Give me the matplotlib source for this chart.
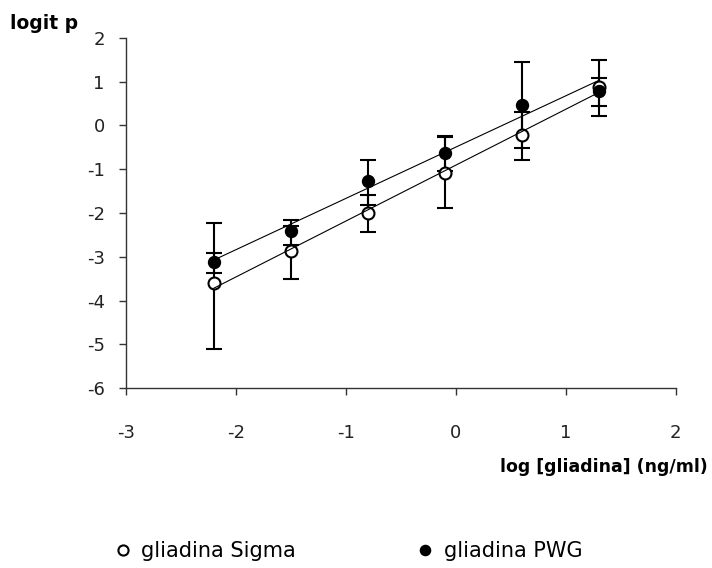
import numpy as np
import matplotlib
matplotlib.use("Agg")
import matplotlib.pyplot as plt

plt.rcParams['font.family'] = ['DejaVu Sans']

# log concentration of gliadin (ng/ml)
log_conc = [-2.2, -1.5, -0.8, -0.1, 0.6, 1.3]

# gliadina Sigma (open circles)
sigma_logit = [-3.61, -2.87, -2.00, -1.08, -0.22, 0.88]
sigma_err_up = [0.70, 0.57, 0.42, 0.81, 0.53, 0.62]
sigma_err_dn = [1.49, 0.63, 0.44, 0.80, 0.56, 0.67]

# gliadina PWG (filled circles)
pwg_logit = [-3.11, -2.40, -1.26, -0.63, 0.47, 0.79]
pwg_err_up = [0.88, 0.23, 0.46, 0.38, 0.99, 0.30]
pwg_err_dn = [0.25, 0.32, 0.55, 0.40, 0.99, 0.35]

x_ticks = [-3, -2, -1, 0, 1, 2]
y_ticks = [2, 1, 0, -1, -2, -3, -4, -5, -6]

fig = plt.figure(figsize=(7.12, 5.68), dpi=100)
ax = fig.add_axes([0.1765, 0.3169, 0.9490 - 0.1765, 0.9331 - 0.3169])

eb_kw = dict(fmt='none', ecolor='black', elinewidth=1.5, capsize=5.8,
             capthick=1.5, zorder=2)
ax.errorbar(log_conc, sigma_logit, yerr=[sigma_err_dn, sigma_err_up], **eb_kw)
ax.errorbar(log_conc, pwg_logit, yerr=[pwg_err_dn, pwg_err_up], **eb_kw)

h_sigma, = ax.plot(log_conc, sigma_logit, ls='none', marker='o', ms=8.6,
                   mfc='white', mec='black', mew=1.5, zorder=3,
                   label='gliadina Sigma')
h_pwg, = ax.plot(log_conc, pwg_logit, ls='none', marker='o', ms=8.6,
                 mfc='black', mec='black', mew=1.0, zorder=4,
                 label='gliadina PWG')

# linear trend lines
xs = np.array([min(log_conc), max(log_conc)])
for yv in (sigma_logit, pwg_logit):
    k, b = np.polyfit(log_conc, yv, 1)
    ax.plot(xs, k * xs + b, color='black', lw=0.8, zorder=5)

ax.set_xlim(-3, 2)
ax.set_ylim(-6, 2)
ax.set_xticks(x_ticks)
ax.set_yticks(y_ticks)
ax.set_xticklabels([str(v) for v in x_ticks])
ax.set_yticklabels([str(v) for v in y_ticks])
for s in ('top', 'right'):
    ax.spines[s].set_visible(False)
for s in ('left', 'bottom'):
    ax.spines[s].set_color('#333333')
    ax.spines[s].set_linewidth(1.0)
ax.tick_params(axis='both', direction='out', length=5, width=1,
               color='#333333', labelsize=13, labelcolor='#222222')
ax.tick_params(axis='y', pad=10)
ax.tick_params(axis='x', pad=21)

fig.text(0.014, 0.959, 'logit p', fontsize=13.5, fontweight='bold',
         ha='left', va='center')
fig.text(0.994, 0.178, 'log [gliadina] (ng/ml)', fontsize=12.5,
         fontweight='bold', ha='right', va='center')

fig.legend(handles=[h_sigma, h_pwg], loc='center',
           bbox_to_anchor=(0.491, 0.030), ncol=2, frameon=False,
           fontsize=15, handlelength=0.6, handletextpad=0.6,
           columnspacing=5.9, markerscale=0.85)

fig.savefig('out.png', dpi=100)
